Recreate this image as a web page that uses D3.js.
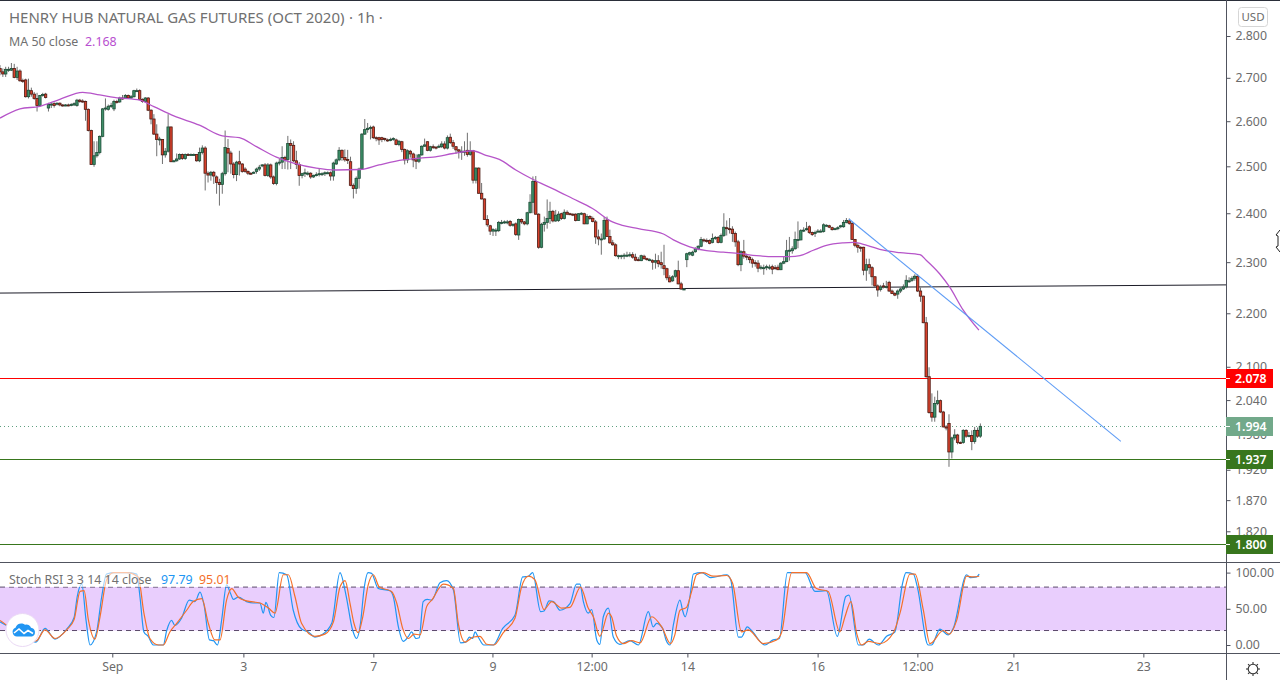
<!DOCTYPE html>
<html>
<head>
<meta charset="utf-8">
<script src="https://cdn.jsdelivr.net/npm/d3@7"></script>
<style>
  html, body { margin: 0; padding: 0; background: #fff; overflow: hidden; }
  text { font-family: "Noto Sans", sans-serif; }
</style>
</head>
<body>
<svg id="chart" width="1280" height="680"></svg>
<script>
// Hourly bars, one entry per candle
const opens = [
  2.722,2.714,2.709,2.718,2.718,2.722,2.701,2.716,2.694,2.695,
  2.656,2.670,2.662,2.652,2.636,2.659,2.662,2.630,2.637,2.640,
  2.639,2.641,2.637,2.636,2.637,2.636,2.637,2.636,2.648,2.646,
  2.645,2.627,2.579,2.504,2.523,2.530,2.566,2.628,2.627,2.634,
  2.628,2.645,2.644,2.653,2.653,2.659,2.653,2.656,2.670,2.670,
  2.650,2.645,2.653,2.625,2.605,2.571,2.559,2.559,2.525,2.533,
  2.587,2.510,2.512,2.516,2.526,2.517,2.526,2.526,2.526,2.526,
  2.512,2.530,2.540,2.485,2.481,2.487,2.477,2.465,2.461,2.484,
  2.539,2.529,2.505,2.482,2.510,2.505,2.494,2.489,2.485,2.486,
  2.489,2.494,2.501,2.503,2.480,2.503,2.477,2.463,2.507,2.509,
  2.519,2.515,2.550,2.546,2.512,2.504,2.480,2.484,2.485,2.485,
  2.477,2.480,2.482,
  2.484,2.484,2.486,2.486,2.479,2.505,2.514,2.535,2.519,2.515,
  2.510,2.459,2.452,2.474,2.494,2.571,2.581,2.584,2.587,2.563,
  2.563,2.563,2.561,2.558,2.559,2.559,2.558,2.548,2.554,2.537,
  2.514,2.533,2.527,2.514,2.511,2.525,2.544,2.554,2.535,2.543,
  2.542,2.544,2.543,2.549,2.540,2.564,2.552,2.543,2.536,2.533,
  2.533,2.535,2.526,2.534,2.470,2.496,2.442,2.430,2.387,2.374,
  2.363,2.363,2.364,2.381,2.381,2.382,2.383,2.376,2.378,2.355,
  2.387,2.382,2.378,2.401,2.423,2.467,2.398,2.330,2.377,2.381,
  2.389,2.404,2.384,2.385,2.399,2.389,2.402,2.399,2.398,2.398,
  2.385,2.399,2.399,2.378,2.393,2.389,2.382,2.351,2.347,2.347,
  2.386,2.352,2.339,2.335,2.313,2.313,2.313,2.314,2.313,2.315,
  2.310,2.305,
  2.303,2.312,2.307,2.305,2.303,2.300,2.303,2.299,2.293,2.287,
  2.269,2.263,2.272,2.283,2.257,2.247,2.305,2.316,2.314,2.321,
  2.327,2.332,2.345,2.344,2.344,2.340,2.348,2.350,2.340,2.354,
  2.370,2.368,2.367,2.358,2.341,2.295,2.321,2.312,2.310,2.305,
  2.299,2.298,2.289,2.289,2.290,2.290,2.291,2.289,2.290,2.285,
  2.298,2.301,2.323,2.323,2.327,2.346,2.345,2.365,2.367,2.372,
  2.360,2.358,2.363,2.363,2.362,2.375,2.374,2.370,2.367,2.369,
  2.372,2.372,2.381,2.384,2.379,2.346,2.334,2.330,2.330,2.284,
  2.295,2.289,2.271,2.253,2.246,2.253,2.252,2.260,2.243,2.238,
  2.237,2.243,2.247,2.251,2.263,2.264,2.268,2.272,2.243,2.233,
  2.182,2.082,2.018,2.010,2.034,2.039,2.019,1.993,1.999,1.950,
  1.974,1.979,1.966,1.966,1.987,1.978,1.978,1.968,1.987,1.977
];
const closes = [
  2.714,2.709,2.720,2.720,2.722,2.701,2.716,2.693,2.692,2.656,
  2.671,2.662,2.652,2.636,2.659,2.661,2.654,2.638,2.639,2.636,
  2.641,2.637,2.635,2.637,2.636,2.638,2.640,2.648,2.645,2.645,
  2.627,2.579,2.504,2.523,2.530,2.566,2.628,2.630,2.634,2.636,
  2.645,2.644,2.653,2.652,2.659,2.653,2.656,2.670,2.670,2.650,
  2.645,2.653,2.625,2.605,2.571,2.559,2.560,2.525,2.533,2.587,
  2.510,2.512,2.516,2.526,2.517,2.526,2.525,2.526,2.526,2.512,
  2.530,2.540,2.485,2.481,2.487,2.479,2.465,2.461,2.484,2.541,
  2.529,2.505,2.482,2.509,2.505,2.489,2.489,2.485,2.484,2.487,
  2.494,2.498,2.503,2.480,2.503,2.477,2.463,2.507,2.509,2.519,
  2.514,2.550,2.546,2.512,2.504,2.480,2.484,2.486,2.485,2.477,
  2.480,2.482,2.484,
  2.484,2.486,2.486,2.479,2.507,2.514,2.535,2.519,2.514,2.513,
  2.459,2.452,2.474,2.494,2.571,2.581,2.584,2.586,2.563,2.562,
  2.558,2.559,2.560,2.557,2.559,2.561,2.548,2.555,2.537,2.514,
  2.534,2.527,2.514,2.511,2.525,2.544,2.547,2.535,2.543,2.542,
  2.541,2.544,2.549,2.540,2.563,2.552,2.544,2.536,2.533,2.533,
  2.533,2.526,2.534,2.470,2.496,2.442,2.430,2.387,2.376,2.363,
  2.366,2.365,2.381,2.381,2.382,2.382,2.375,2.377,2.356,2.387,
  2.382,2.378,2.401,2.423,2.467,2.398,2.330,2.377,2.381,2.389,
  2.404,2.384,2.396,2.398,2.389,2.402,2.398,2.398,2.396,2.385,
  2.399,2.400,2.378,2.393,2.389,2.383,2.351,2.347,2.347,2.385,
  2.352,2.339,2.335,2.313,2.313,2.313,2.314,2.314,2.315,2.310,
  2.304,2.304,
  2.313,2.307,2.306,2.305,2.300,2.303,2.297,2.295,2.287,2.269,
  2.261,2.271,2.283,2.257,2.247,2.247,2.317,2.319,2.320,2.327,
  2.332,2.346,2.344,2.343,2.338,2.348,2.350,2.340,2.354,2.371,
  2.368,2.367,2.358,2.341,2.295,2.321,2.312,2.310,2.305,2.298,
  2.298,2.288,2.290,2.289,2.291,2.290,2.286,2.288,2.285,2.298,
  2.301,2.323,2.324,2.327,2.346,2.346,2.364,2.365,2.368,2.360,
  2.356,2.360,2.363,2.363,2.376,2.375,2.371,2.366,2.368,2.370,
  2.374,2.381,2.385,2.379,2.346,2.334,2.330,2.329,2.284,2.295,
  2.289,2.271,2.253,2.245,2.251,2.252,2.252,2.243,2.238,2.235,
  2.243,2.247,2.251,2.264,2.263,2.268,2.272,2.243,2.233,2.182,
  2.082,2.018,2.010,2.034,2.039,2.019,1.993,1.991,1.950,1.974,
  1.979,1.966,1.965,1.987,1.977,1.978,1.968,1.987,1.977,1.994
];
const highs = [
  2.730,2.722,2.726,2.726,2.735,2.733,2.726,2.720,2.698,2.698,
  2.698,2.677,2.667,2.665,2.660,2.665,2.665,2.642,2.643,2.643,
  2.643,2.643,2.639,2.639,2.640,2.641,2.643,2.651,2.651,2.650,
  2.647,2.629,2.581,2.555,2.555,2.568,2.630,2.652,2.638,2.642,
  2.649,2.649,2.656,2.660,2.662,2.661,2.660,2.672,2.675,2.673,
  2.652,2.655,2.655,2.627,2.616,2.593,2.565,2.560,2.540,2.616,
  2.588,2.514,2.528,2.528,2.528,2.528,2.529,2.528,2.528,2.527,
  2.541,2.546,2.544,2.489,2.490,2.490,2.480,2.473,2.488,2.579,
  2.560,2.534,2.509,2.512,2.534,2.507,2.498,2.491,2.487,2.489,
  2.497,2.503,2.505,2.507,2.507,2.506,2.480,2.510,2.516,2.544,
  2.523,2.567,2.559,2.555,2.534,2.509,2.486,2.495,2.489,2.487,
  2.482,2.487,2.495,
  2.487,2.489,2.489,2.489,2.510,2.517,2.542,2.537,2.537,2.536,
  2.521,2.463,2.478,2.497,2.573,2.605,2.596,2.590,2.590,2.566,
  2.565,2.565,2.563,2.561,2.563,2.564,2.561,2.558,2.556,2.539,
  2.537,2.536,2.530,2.526,2.527,2.546,2.561,2.555,2.545,2.548,
  2.544,2.548,2.555,2.555,2.568,2.572,2.558,2.544,2.538,2.544,
  2.555,2.574,2.555,2.536,2.498,2.498,2.464,2.431,2.396,2.376,
  2.369,2.369,2.384,2.386,2.385,2.386,2.386,2.379,2.381,2.389,
  2.389,2.384,2.403,2.440,2.478,2.479,2.400,2.380,2.393,2.429,
  2.424,2.407,2.407,2.404,2.401,2.408,2.406,2.401,2.400,2.400,
  2.400,2.402,2.401,2.398,2.396,2.393,2.386,2.366,2.358,2.392,
  2.393,2.366,2.345,2.338,2.315,2.315,2.318,2.321,2.320,2.320,
  2.317,2.310,
  2.315,2.315,2.309,2.308,2.306,2.317,2.314,2.321,2.335,2.289,
  2.274,2.274,2.285,2.303,2.261,2.249,2.319,2.321,2.323,2.330,
  2.334,2.351,2.348,2.348,2.346,2.358,2.353,2.353,2.358,2.400,
  2.385,2.390,2.373,2.362,2.345,2.324,2.345,2.317,2.312,2.309,
  2.304,2.304,2.294,2.295,2.295,2.295,2.295,2.294,2.295,2.300,
  2.312,2.345,2.351,2.332,2.362,2.383,2.367,2.371,2.382,2.375,
  2.362,2.364,2.367,2.367,2.379,2.377,2.376,2.372,2.370,2.373,
  2.376,2.386,2.390,2.389,2.382,2.347,2.338,2.332,2.331,2.307,
  2.307,2.292,2.272,2.256,2.255,2.259,2.263,2.263,2.246,2.241,
  2.246,2.250,2.256,2.274,2.270,2.272,2.276,2.276,2.250,2.234,
  2.193,2.099,2.052,2.046,2.057,2.041,2.021,1.996,2.015,1.976,
  1.989,1.981,1.968,1.989,1.989,1.984,1.987,1.993,1.992,1.999
];
const lows = [
  2.706,2.702,2.702,2.714,2.716,2.699,2.695,2.691,2.688,2.654,
  2.652,2.656,2.649,2.622,2.633,2.656,2.652,2.622,2.630,2.631,
  2.636,2.634,2.633,2.634,2.634,2.634,2.635,2.633,2.642,2.642,
  2.601,2.577,2.503,2.499,2.519,2.526,2.564,2.624,2.624,2.630,
  2.623,2.640,2.642,2.649,2.651,2.651,2.651,2.654,2.667,2.648,
  2.642,2.643,2.623,2.593,2.569,2.522,2.546,2.505,2.519,2.530,
  2.509,2.509,2.510,2.514,2.514,2.514,2.523,2.523,2.523,2.510,
  2.509,2.526,2.448,2.465,2.469,2.462,2.441,2.416,2.441,2.480,
  2.487,2.484,2.474,2.468,2.480,2.486,2.486,2.481,2.482,2.484,
  2.484,2.490,2.498,2.478,2.477,2.473,2.460,2.459,2.502,2.494,
  2.494,2.493,2.494,2.509,2.494,2.458,2.474,2.477,2.480,2.473,
  2.475,2.478,2.478,
  2.479,2.479,2.483,2.469,2.469,2.503,2.511,2.512,2.510,2.505,
  2.457,2.431,2.441,2.452,2.492,2.569,2.574,2.559,2.560,2.555,
  2.547,2.553,2.555,2.554,2.555,2.556,2.546,2.544,2.531,2.504,
  2.507,2.519,2.498,2.494,2.507,2.523,2.543,2.533,2.532,2.538,
  2.537,2.540,2.540,2.537,2.537,2.549,2.538,2.527,2.517,2.514,
  2.523,2.521,2.523,2.463,2.463,2.441,2.429,2.386,2.372,2.355,
  2.353,2.353,2.361,2.377,2.378,2.377,2.372,2.372,2.353,2.345,
  2.378,2.375,2.375,2.400,2.400,2.397,2.327,2.328,2.362,2.368,
  2.378,2.381,2.382,2.382,2.386,2.387,2.396,2.396,2.394,2.383,
  2.384,2.396,2.377,2.377,2.386,2.381,2.337,2.334,2.315,2.345,
  2.351,2.337,2.333,2.311,2.306,2.306,2.306,2.310,2.310,2.307,
  2.302,2.302,
  2.302,2.305,2.303,2.302,2.285,2.287,2.290,2.287,2.274,2.264,
  2.260,2.261,2.269,2.256,2.245,2.245,2.290,2.313,2.312,2.319,
  2.324,2.330,2.340,2.339,2.336,2.338,2.345,2.338,2.338,2.351,
  2.354,2.358,2.341,2.331,2.292,2.282,2.307,2.304,2.298,2.289,
  2.291,2.280,2.285,2.275,2.284,2.285,2.276,2.285,2.284,2.284,
  2.296,2.300,2.303,2.317,2.325,2.328,2.344,2.361,2.364,2.357,
  2.353,2.351,2.360,2.360,2.360,2.372,2.369,2.364,2.365,2.365,
  2.369,2.370,2.379,2.376,2.345,2.330,2.319,2.321,2.274,2.263,
  2.276,2.254,2.251,2.232,2.242,2.248,2.248,2.241,2.237,2.233,
  2.228,2.239,2.245,2.248,2.259,2.261,2.263,2.241,2.222,2.181,
  2.080,2.016,2.002,2.002,2.031,2.017,1.992,1.987,1.925,1.939,
  1.970,1.963,1.964,1.964,1.974,1.975,1.953,1.964,1.974,1.974
];

// MA 50 vertices
const maBars = [0,7,14,21,29,35,42,49,54,61,70,78,84,90,97,103,111,118,126.3,133,141.4,147.4,152,159,165.8,170.5,175.2,181,186.9,193.9,200.9,207.9,214.9,218.4,224,232.8,236.3,242,247.9,253.8,259.7,265.5,271.4,277.3,280.7,285.4,290,296,299.5,304.2,310,315.8,322.8,325,329.7,333.2,338,343.5];
const maValues = [2.607,2.628,2.634,2.650,2.666,2.660,2.653,2.648,2.633,2.612,2.591,2.567,2.563,2.543,2.520,2.507,2.496,2.492,2.493,2.503,2.514,2.518,2.520,2.528,2.534,2.524,2.515,2.492,2.472,2.452,2.431,2.410,2.382,2.375,2.368,2.357,2.345,2.331,2.323,2.320,2.317,2.313,2.311,2.311,2.313,2.324,2.334,2.339,2.340,2.334,2.324,2.319,2.315,2.304,2.277,2.251,2.206,2.168];

// Stoch RSI %K vertices
const kBars = [0,2.3,12.6,15.8,19.3,23.4,26,27.1,28.7,30.2,31.6,33.9,35.7,37.4,40.4,44.4,48,49.1,50.5,52,53.8,57.3,58.5,60.2,61.4,63.7,66.4,68.4,70.2,71.6,73.5,74.9,76.3,77.8,79.5,80.9,81.9,83.6,86.5,88.9,91.2,92.4,93.3,95,96.1,98,100.6,102.9,105.8,108.2,110.5,112.9,116.4,119.3,121.4,123.7,125.1,126.5,127.7,129.2,130.4,132.7,136.8,138,139.8,141.5,143.3,144.4,146,147.1,148.5,149.9,151.5,154.4,156.7,159.1,161.6,163.5,164.7,165.8,166.7,167.8,169.8,173.1,176.4,180.7,183.4,185.4,186.9,189.7,190.9,192.7,194.2,196.5,200,202.3,203.5,204.7,206.4,207.6,209.4,210.5,211.7,213.5,215.2,217.5,221,224,227.5,229.2,230.4,232.5,233.7,235.1,236.3,238.6,239.5,240.4,242.1,243.3,246.2,249.4,255,256.4,259.1,260.2,262.2,263.7,268.4,271.3,273.5,276.3,282.5,286,290,293.8,296.8,297.9,301.2,302.9,305,308.2,311.1,314,316.7,317.9,320.5,321.9,325.7,326.9,329.8,332.7,334.5,339.2,340.4,342.7,343.6];
const kValues = [32,27,4,23,8,22,38,67,84,34,0,18,67,98,100,100,98,67,18,12,0,0,20,34,27,37,62,60,73,55,7,6,0,35,83,71,63,66,60,58,58,44,59,41,38,100,97,48,22,18,11,14,30,100,69,21,9,30,76,100,99,78,75,67,25,5,12,18,9,10,60,63,62,86,89,76,3,4,11,9,18,11,0,0,23,41,94,95,100,46,47,61,60,48,57,84,84,60,44,49,7,1,39,51,11,1,6,0,46,25,30,23,7,0,28,62,48,39,67,98,100,93,97,90,11,11,25,20,0,7,9,100,100,74,75,12,67,69,0,0,8,0,12,18,85,100,98,80,0,0,22,14,23,97,93,94,97.79];

// Stoch RSI %D vertices
const dBars = [0,2.9,12.6,15.8,19.3,23.4,26,28.1,29.5,31,33.3,35.1,37.4,39.8,44.4,48.5,50.5,52.6,55.6,57.3,59.6,62,65.5,67.8,70.8,73.1,75.4,77.2,79.5,81.3,83.6,86.5,91.2,94.2,96.5,99.4,101.2,103.5,105.8,110.5,114,117,119.3,121.1,122.8,124.2,125.7,127.3,129.2,131,133.1,137.4,139.2,141.3,143.3,145.3,147.4,149.7,151.5,155.6,159.1,160.8,163.2,166.1,168.4,170.8,173.3,176.6,180.7,183,185.4,187.7,190.9,193.6,197.1,200,203.7,206.4,208.2,210.5,213.5,214.6,216.4,218.7,221.6,224.6,228.7,232.2,235.3,236.8,238.6,240.9,242.7,244.4,246.8,250.3,255,257.1,260.2,262.6,267.8,272.5,274.3,277.8,283,286.5,290.6,294.7,296.5,298.6,300.6,302.3,304.7,308.8,313.5,315.8,319.3,321.1,324,326.3,331,333.1,335.7,339.2,341.5,343.6];
const dValues = [34,26,5.5,21,9,21,35,74,75,35,8,39,90,100,100,94,44,9,0,0,18,30,48,60,64,30,7,7,62,78,66,61,58,51,44,97,97,67,30,12,15,32,80,89,58,30,17,39,83,97,80,74,58,23,9,15,14,53,62,84,78,30,4,11,12,1,0,17,37,80,95,90,49,60,51,52,80,51,39,12,44,39,12,2,6,3,39,25,2,14,48,52,74,97,100,95,96,85,18,21,2,7,18,100,100,78,74,18,39,60,16,0,5,2,17,44,98,98,48,2,20,15,34,95,94,95.01];

// Drawn lines and price levels
const supportBars = [0, 430.2];
const supportPrices = [2.239, 2.255];
const trendBars = [297.9, 393.3];
const trendPrices = [2.388, 1.968];
const levelPrices = [2.078, 1.937, 1.800];
const levelColors = ["#ff0000", "#38761d", "#38761d"];
const lastPrice = 1.994;

// Axis ticks
const priceTicks = [2.8, 2.7, 2.6, 2.5, 2.4, 2.3, 2.2, 2.1, 2.04, 1.98, 1.92, 1.87, 1.82];
const stochTicks = [100, 50, 0];
const timeTickBars = [39.4, 85.4, 131, 172.8, 207.6, 241.2, 286.9, 321.9, 355.6, 401.2];
const timeTickLabels = ["Sep", "3", "7", "9", "12:00", "14", "16", "12:00", "21", "23"];

const axisColor = "#50535e";
const labelColor = "#6b6b6b";
const paneRight = 1226;

const svg = d3.select("#chart");

// Scales: the price axis is logarithmic, which is why the ticks crowd at the top
const x = d3.scaleLinear().domain([0, 430.2]).range([0, paneRight]);
const y = d3.scaleLog().domain([2.8, 1.8]).range([36, 544]);
const yStoch = d3.scaleLinear().domain([100, 0]).range([572.6, 645]);

svg.append("defs").append("clipPath").attr("id", "priceClip")
  .append("rect").attr("x", 0).attr("y", 1).attr("width", paneRight).attr("height", 561);

// Stoch pane band
svg.append("rect")
  .attr("x", 0).attr("width", paneRight)
  .attr("y", yStoch(80)).attr("height", yStoch(20) - yStoch(80))
  .attr("fill", "#e9cefd");

svg.selectAll(".bandLine").data([80, 20]).enter().append("line")
  .attr("x1", 0).attr("x2", paneRight)
  .attr("y1", d => yStoch(d)).attr("y2", d => yStoch(d))
  .attr("stroke", "#5c4a6b").attr("stroke-dasharray", "5,4");

// Stoch lines
function stochLine(bars, values, color) {
  const line = d3.line().x(d => x(d)).y((d, i) => yStoch(values[i])).curve(d3.curveMonotoneX);
  svg.append("path").attr("d", line(bars))
    .attr("fill", "none").attr("stroke", color).attr("stroke-width", 1.2);
}
stochLine(kBars, kValues, "#2196f3");
stochLine(dBars, dValues, "#f4702a");

// Price pane
const pricePane = svg.append("g").attr("clip-path", "url(#priceClip)");

// Support line goes under the candles
pricePane.append("line")
  .attr("x1", x(supportBars[0])).attr("x2", x(supportBars[1]))
  .attr("y1", y(supportPrices[0])).attr("y2", y(supportPrices[1]))
  .attr("stroke", "#1c1c28").attr("stroke-width", 1);

// Horizontal levels, kept on whole pixel rows
levelPrices.forEach((price, i) => {
  const row = Math.floor(y(price)) + 0.5;
  pricePane.append("path")
    .attr("d", d3.line()([[0, row], [paneRight, row]]))
    .attr("fill", "none")
    .style("stroke", levelColors[i]).style("stroke-width", "1px");
});

pricePane.append("line")
  .attr("x1", 0).attr("x2", paneRight)
  .attr("y1", Math.floor(y(lastPrice)) + 0.5).attr("y2", Math.floor(y(lastPrice)) + 0.5)
  .attr("stroke", "#5f9f80").attr("stroke-dasharray", "1,3");

// Candles
const candles = pricePane.selectAll(".candle").data(closes).enter().append("g");

candles.append("line")
  .attr("x1", (d, i) => x(i)).attr("x2", (d, i) => x(i))
  .attr("y1", (d, i) => y(highs[i])).attr("y2", (d, i) => y(lows[i]))
  .attr("stroke", "#707070").attr("stroke-width", 1);

candles.append("rect")
  .attr("x", (d, i) => x(i) - 1.2)
  .attr("width", 2.4)
  .attr("y", (d, i) => y(Math.max(opens[i], closes[i])))
  .attr("height", (d, i) => Math.max(1, Math.abs(y(opens[i]) - y(closes[i]))))
  .attr("fill", (d, i) => closes[i] >= opens[i] ? "#3d8f68" : "#d8412c")
  .attr("stroke", (d, i) => closes[i] >= opens[i] ? "#1d4d37" : "#4d1a12")
  .attr("stroke-width", 0.8);

// MA 50
const maLine = d3.line().x(d => x(d)).y((d, i) => y(maValues[i])).curve(d3.curveMonotoneX);
pricePane.append("path").attr("d", maLine(maBars))
  .attr("fill", "none").attr("stroke", "#b655c9").attr("stroke-width", 1.3);

// Falling trend line
pricePane.append("line")
  .attr("x1", x(trendBars[0])).attr("x2", x(trendBars[1]))
  .attr("y1", y(trendPrices[0])).attr("y2", y(trendPrices[1]))
  .attr("stroke", "#5e9cf5").attr("stroke-width", 1.1);

// Pane borders
svg.append("line").attr("x1", 0).attr("x2", 1280).attr("y1", 0.5).attr("y2", 0.5).attr("stroke", "#2a2e39");
svg.append("line").attr("x1", 0).attr("x2", 1280).attr("y1", 562.5).attr("y2", 562.5).attr("stroke", axisColor);
svg.append("line").attr("x1", 0).attr("x2", 1280).attr("y1", 653.5).attr("y2", 653.5).attr("stroke", axisColor);
svg.append("line").attr("x1", paneRight + 0.5).attr("x2", paneRight + 0.5).attr("y1", 0).attr("y2", 680).attr("stroke", axisColor);

// Right axes
function rightAxis(scale, values, format) {
  const g = svg.append("g").attr("transform", `translate(${paneRight + 0.5},0)`)
    .call(d3.axisRight(scale).tickValues(values).tickFormat(format).tickSize(4).tickPadding(5));
  g.select(".domain").remove();
  g.selectAll("line").attr("stroke", axisColor);
  g.selectAll("text").attr("fill", labelColor).style("font-size", "12.3px").style("font-family", '"Noto Sans", sans-serif');
}
rightAxis(y, priceTicks, d3.format(".3f"));
rightAxis(yStoch, stochTicks, d3.format(".2f"));

// Time axis
const timeAxis = svg.append("g").attr("transform", "translate(0,653.5)")
  .call(d3.axisBottom(x).tickValues(timeTickBars).tickFormat((d, i) => timeTickLabels[i]).tickSize(4).tickPadding(5));
timeAxis.select(".domain").remove();
timeAxis.selectAll("line").attr("stroke", axisColor);
timeAxis.selectAll("text").attr("fill", labelColor).style("font-size", "12.3px").style("font-family", '"Noto Sans", sans-serif');

// Price labels on the axis
const priceLabels = [
  { value: 2.078, color: "#ff0000" },
  { value: 1.994, color: "#72a98a" },
  { value: 1.937, color: "#38761d" },
  { value: 1.800, color: "#38761d" }
];
priceLabels.forEach(d => {
  const row = Math.floor(y(d.value));
  svg.append("rect").attr("x", paneRight).attr("y", row - 9).attr("width", 47).attr("height", 19).attr("fill", d.color);
  svg.append("line").attr("x1", paneRight).attr("x2", paneRight + 4)
    .attr("y1", row + 0.5).attr("y2", row + 0.5).attr("stroke", "#fff");
  svg.append("text").attr("x", paneRight + 9).attr("y", row + 5)
    .attr("fill", "#fff").style("font-size", "12.3px").style("font-weight", 600)
    .text(d3.format(".3f")(d.value));
});

// Legends
svg.append("text").attr("x", 9).attr("y", 23).attr("fill", "#707070").style("font-size", "15px")
  .text("HENRY HUB NATURAL GAS FUTURES (OCT 2020)");
svg.append("text").attr("x", 349).attr("y", 23).attr("fill", "#707070").style("font-size", "15px")
  .text("· 1h ·");
svg.append("text").attr("x", 9).attr("y", 46).attr("fill", "#707070").style("font-size", "12.4px")
  .text("MA 50 close");
svg.append("text").attr("x", 85).attr("y", 46).attr("fill", "#b84fd0").style("font-size", "12.4px")
  .text("2.168");

svg.append("rect").attr("x", 6).attr("y", 571).attr("width", 226).attr("height", 16).attr("fill", "#fff").attr("opacity", 0.6);
svg.append("text").attr("x", 9).attr("y", 584).attr("fill", "#707070").style("font-size", "12.4px")
  .text("Stoch RSI 3 3 14 14 close");
svg.append("text").attr("x", 161).attr("y", 584).attr("fill", "#2196f3").style("font-size", "12.4px")
  .text("97.79");
svg.append("text").attr("x", 199).attr("y", 584).attr("fill", "#f4702a").style("font-size", "12.4px")
  .text("95.01");

// USD button
svg.append("rect").attr("x", 1238.5).attr("y", 7.5).attr("width", 29).attr("height", 19).attr("rx", 3)
  .attr("fill", "#fff").attr("stroke", "#d6d6d6");
svg.append("text").attr("x", 1253).attr("y", 21).attr("text-anchor", "middle").attr("fill", labelColor)
  .style("font-size", "11.5px").text("USD");

// Watermark logo
svg.append("circle").attr("cx", 22.5).attr("cy", 630).attr("r", 16.5).attr("fill", "#fff").attr("stroke", "#ead9f5");
svg.append("path")
  .attr("d", "M17,636.5 a4.5,4.5 0 0 1 -1.5,-8.7 a6,6 0 0 1 9.5,-3 a4.5,4.5 0 0 1 6,3 a4.5,4.5 0 0 1 1,8.7 z")
  .attr("fill", "#2196f3");
svg.append("path").attr("d", "M14,633 l5,-4 l5,4.5 l4,-3 l5,3")
  .attr("fill", "none").attr("stroke", "#fff").attr("stroke-width", 1.6);

// Gear in the corner
const gear = svg.append("g").attr("transform", "translate(1253,669)");
gear.append("circle").attr("r", 4.8).attr("fill", "none").attr("stroke", "#333").attr("stroke-width", 1.1);
d3.range(8).forEach(k => {
  const a = k * Math.PI / 4;
  gear.append("line")
    .attr("x1", 4.8 * Math.cos(a)).attr("y1", 4.8 * Math.sin(a))
    .attr("x2", 7 * Math.cos(a)).attr("y2", 7 * Math.sin(a))
    .attr("stroke", "#333").attr("stroke-width", 1.1);
});

// Resize cursor caught in the screenshot
svg.append("path")
  .attr("d", "M1280,230 L1276,235 L1278,236 L1278,246 L1276,247 L1280,252")
  .attr("fill", "#fff").attr("stroke", "#222").attr("stroke-width", 1);
</script>
</body>
</html>
